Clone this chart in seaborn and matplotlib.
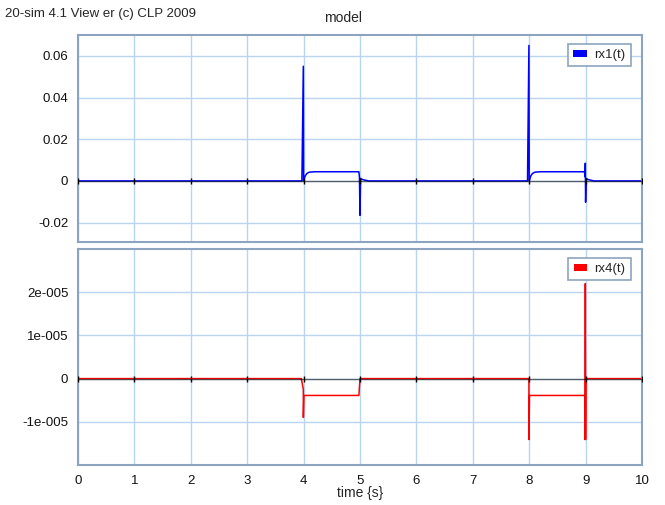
import numpy as np
import pandas as pd
import matplotlib
matplotlib.use("Agg")
import matplotlib.pyplot as plt
import seaborn as sns
from matplotlib.patches import Rectangle

# ---- data ----
t_rx1 = [0.0, 3.97, 3.995, 4.0, 4.03, 4.06, 4.1, 4.2, 4.98, 4.99, 5.0, 5.01, 5.04, 5.1, 5.15,
         7.97, 7.995, 8.0, 8.03, 8.06, 8.1, 8.2, 8.98, 8.99, 8.995, 9.0, 9.01, 9.04, 9.1, 9.15, 10.0]
rx1 = [0.0, 0.0, 0.055, 0.0, 0.0025, 0.0036, 0.0042, 0.0044, 0.0044, 0.002, -0.0165, 0.0012, 0.0007, 0.0003, 0.0,
       0.0, 0.065, 0.0, 0.0025, 0.0036, 0.0042, 0.0044, 0.0044, 0.002, 0.0085, -0.0102, 0.0012, 0.0007, 0.0003, 0.0, 0.0]

t_rx4 = [0.0, 3.96, 3.995, 3.996, 4.005, 4.98, 5.0, 7.995, 7.996, 8.005, 8.985, 8.99, 8.995, 9.0, 9.005, 10.0]
rx4 = [0.0, 0.0, -0.25e-5, -0.9e-5, -0.39e-5, -0.39e-5, 0.0, 0.0, -1.41e-5, -0.39e-5, -0.39e-5, -1.41e-5, 2.2e-5, -1.41e-5, 0.0, 0.0]

x_ticks = [0, 1, 2, 3, 4, 5, 6, 7, 8, 9, 10]
top_yticks = [0.06, 0.04, 0.02, 0.0, -0.02]
top_ylabels = ["0.06", "0.04", "0.02", "0", "-0.02"]
bot_yticks = [2e-5, 1e-5, 0.0, -1e-5]
bot_ylabels = ["2e-005", "1e-005", "0", "-1e-005"]

df1 = pd.DataFrame({"t": t_rx1, "v": rx1})
df4 = pd.DataFrame({"t": t_rx4, "v": rx4})

sns.set_style("white")
plt.rcParams["font.family"] = ["Liberation Sans", "DejaVu Sans"]

fig = plt.figure(figsize=(6.65, 5.05), dpi=100)
ax1 = fig.add_axes([78 / 665, 1 - 242 / 505, 564 / 665, 207 / 505])
ax2 = fig.add_axes([78 / 665, 1 - 465 / 505, 564 / 665, 216 / 505])

spine_c = "#8ca4bf"
grid_c = "#b9d5f2"

def style(ax, yt, yl, ylim, show_x):
    ax.set_xlim(0, 10)
    ax.set_ylim(*ylim)
    ax.set_xticks(x_ticks)
    ax.set_yticks(yt)
    ax.set_yticklabels(yl)
    if show_x:
        ax.set_xticklabels([str(v) for v in x_ticks])
    else:
        ax.set_xticklabels([])
    ax.grid(True, color=grid_c, lw=1.0)
    ax.set_axisbelow(True)
    for s in ax.spines.values():
        s.set_color(spine_c)
        s.set_linewidth(1.5)
    ax.tick_params(length=0, labelsize=9.5, pad=7, colors="#111111")
    ax.set_xlabel("")
    ax.set_ylabel("")

sns.lineplot(data=df1, x="t", y="v", ax=ax1, color="#0000ff", lw=1.1, legend=False, estimator=None, sort=False)
ax1.axhline(0, color="black", lw=1.0, alpha=0.55, zorder=3)
ax1.plot(x_ticks, [0] * len(x_ticks), ls="", marker="|", ms=4, color="black", mew=1, zorder=4)
style(ax1, top_yticks, top_ylabels, (-0.0293, 0.070), False)

sns.lineplot(data=df4, x="t", y="v", ax=ax2, color="#ff0000", lw=1.1, legend=False, estimator=None, sort=False)
ax2.axhline(0, color="black", lw=1.0, alpha=0.55, zorder=3)
ax2.plot(x_ticks, [0] * len(x_ticks), ls="", marker="|", ms=4, color="black", mew=1, zorder=4)
style(ax2, bot_yticks, bot_ylabels, (-2.0e-5, 3.0e-5), True)

for ax, c, lab in [(ax1, "#0000ff", "rx1(t)"), (ax2, "#ff0000", "rx4(t)")]:
    h = Rectangle((0, 0), 1, 1, facecolor=c, edgecolor="none")
    leg = ax.legend([h], [lab], loc="upper right", fancybox=False, framealpha=1,
                    edgecolor=spine_c, handlelength=1.0, handleheight=0.45, handletextpad=0.6,
                    borderpad=0.4, fontsize=9.5, bbox_to_anchor=(0.992, 0.99))
    leg.get_frame().set_linewidth(1.2)

fig.text(343 / 665, 1 - 18 / 505, "model", ha="center", va="center", fontsize=10)
fig.text(5 / 665, 1 - 14 / 505, "20-sim 4.1 View er (c) CLP 2009", ha="left", va="center", fontsize=9.5)
fig.text(360 / 665, 1 - 493 / 505, "time {s}", ha="center", va="center", fontsize=10)

fig.savefig("out.png", dpi=100, facecolor="white")
